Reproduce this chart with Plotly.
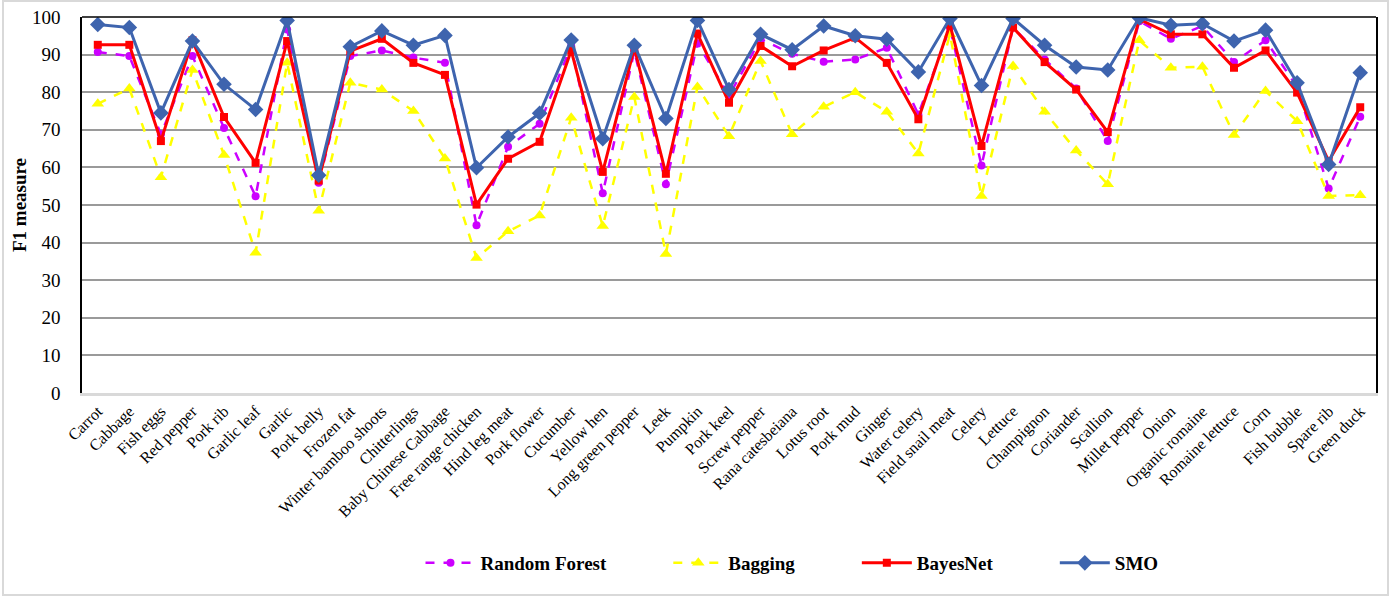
import plotly.graph_objects as go

categories = ["Carrot", "Cabbage", "Fish eggs", "Red pepper", "Pork rib", "Garlic leaf", "Garlic",
              "Pork belly", "Frozen fat", "Winter bamboo shoots", "Chitterlings", "Baby Chinese Cabbage",
              "Free range chicken", "Hind leg meat", "Pork flower", "Cucumber", "Yellow hen",
              "Long green pepper", "Leek", "Pumpkin", "Pork keel", "Screw pepper", "Rana catesbeiana",
              "Lotus root", "Pork mud", "Ginger", "Water celery", "Field snail meat", "Celery", "Lettuce",
              "Champignon", "Coriander", "Scallion", "Millet pepper", "Onion", "Organic romaine",
              "Romaine lettuce", "Corn", "Fish bubble", "Spare rib", "Green duck"]

random_forest = [90.7, 89.6, 68.8, 89.6, 70.5, 52.3, 96.7, 55.9, 89.6, 91.1, 89.2, 87.8,
                 44.6, 65.5, 71.6, 92.3, 53.1, 90.9, 55.5, 93.0, 79.1, 94.1, 90.2,
                 88.1, 88.7, 91.8, 74.1, 97.2, 60.5, 97.2, 88.7, 81.0, 67.0, 98.9,
                 94.2, 97.6, 88.0, 93.8, 81.4, 54.4, 73.5]
bagging = [76.9, 81.0, 57.4, 85.9, 63.3, 37.3, 87.8, 48.5, 82.5, 80.7, 75.0, 62.4,
           35.9, 43.0, 47.2, 73.2, 44.4, 78.7, 37.0, 81.4, 68.3, 88.3, 68.8,
           76.1, 80.0, 74.8, 63.7, 95.4, 52.4, 87.0, 74.8, 64.5, 55.5, 93.8,
           86.5, 86.8, 68.6, 80.3, 72.3, 52.4, 52.6]
bayesnet = [92.6, 92.6, 67.0, 93.8, 73.4, 61.2, 93.6, 56.5, 90.9, 94.2, 87.8, 84.6,
            50.1, 62.3, 66.8, 91.1, 58.8, 91.8, 58.3, 95.6, 77.2, 92.3, 86.9,
            91.1, 94.5, 87.8, 72.8, 98.0, 65.7, 97.2, 88.0, 80.7, 69.4, 99.4,
            95.4, 95.4, 86.5, 91.1, 79.9, 61.7, 76.0]
smo = [98.0, 97.2, 74.5, 93.6, 82.1, 75.4, 99.1, 57.9, 92.1, 96.3, 92.5, 95.1,
       59.9, 68.1, 74.4, 93.9, 67.6, 92.5, 73.0, 99.1, 80.7, 95.4, 91.3,
       97.6, 95.0, 94.1, 85.4, 99.6, 81.8, 99.6, 92.5, 86.7, 85.9, 99.8,
       97.8, 98.2, 93.6, 96.5, 82.5, 60.8, 85.2]

y_ticks = [0, 10, 20, 30, 40, 50, 60, 70, 80, 90, 100]

SERIF = "Liberation Serif, Times New Roman, serif"
PAD = "\u00a0" * 12

fig = go.Figure()
fig.add_trace(go.Scatter(x=categories, y=random_forest, name="Random Forest" + PAD, mode="lines+markers",
                         line=dict(color="#CC00FF", width=2.5, dash="dash"),
                         marker=dict(symbol="circle", size=8, color="#CC00FF")))
fig.add_trace(go.Scatter(x=categories, y=bagging, name="Bagging" + PAD, mode="lines+markers",
                         line=dict(color="#FFFF00", width=2.5, dash="dash"),
                         marker=dict(symbol="triangle-up", size=11, color="#FFFF00")))
fig.add_trace(go.Scatter(x=categories, y=bayesnet, name="BayesNet" + PAD, mode="lines+markers",
                         line=dict(color="#FF0000", width=3),
                         marker=dict(symbol="square", size=8, color="#FF0000")))
fig.add_trace(go.Scatter(x=categories, y=smo, name="SMO", mode="lines+markers",
                         line=dict(color="#3E64AE", width=3),
                         marker=dict(symbol="diamond", size=12, color="#3E64AE")))

fig.update_layout(
    width=1400, height=599,
    margin=dict(l=82, r=24, t=17, b=206),
    paper_bgcolor="white", plot_bgcolor="white",
    font=dict(family=SERIF, color="black"),
    showlegend=True,
    legend=dict(orientation="h", x=(792 - 82) / 1294, xanchor="center", y=(393 - 563) / 376,
                yanchor="middle",
                font=dict(family=SERIF, size=19, color="black", weight="bold"),
                itemwidth=50, tracegroupgap=0),
    xaxis=dict(type="category", tickangle=-45, tickfont=dict(family=SERIF, size=16),
               showline=True, linecolor="#D9D9D9", linewidth=2.5, showgrid=False,
               ticks="", range=[-0.5, len(categories) - 0.5], automargin=False),
    yaxis=dict(range=[0, 100], tickvals=y_ticks, tickfont=dict(family=SERIF, size=19),
               showgrid=True, gridcolor="#9A9A9A", gridwidth=1.5,
               showline=True, linecolor="black", linewidth=1.5, mirror=True,
               ticks="outside", ticklen=16, tickcolor="rgba(0,0,0,0)", zeroline=False,
               automargin=False,
               title=dict(text="<b>F1 measure</b>", font=dict(family=SERIF, size=19), standoff=0)),
)

# top border of plot area
fig.add_shape(type="line", xref="paper", yref="paper", x0=0, x1=1, y0=1, y1=1,
              line=dict(color="black", width=1.5))
# outer chart frame
fig.add_shape(type="rect", xref="paper", yref="paper",
              x0=(3 - 82) / 1294, x1=(1388 - 82) / 1294,
              y0=(393 - 595) / 376, y1=(393 - 1) / 376,
              line=dict(color="#D9D9D9", width=2), layer="below")

fig.write_html("out.html", config={"displayModeBar": False},
               post_script="document.body.style.margin='0';")
